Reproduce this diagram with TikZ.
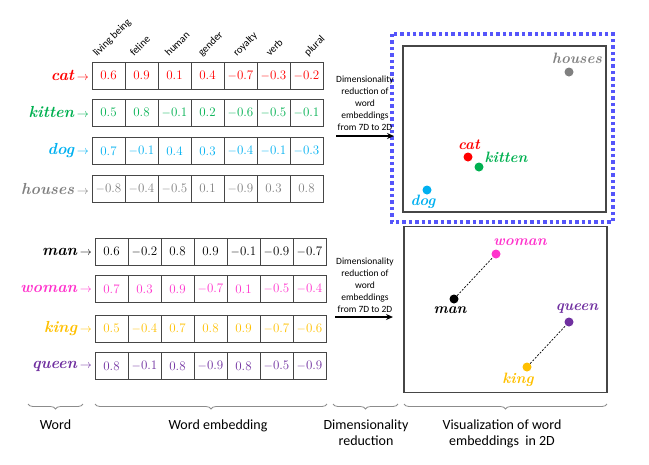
\documentclass[tikz,border=0pt]{standalone}
\usepackage{fontspec}
\usetikzlibrary{arrows.meta,decorations.pathreplacing}
\newfontfamily\calib{Carlito}
\definecolor{catred}{RGB}{255,0,0}
\definecolor{kittengreen}{RGB}{0,176,80}
\definecolor{dogblue}{RGB}{0,176,240}
\definecolor{housegray}{RGB}{128,128,128}
\definecolor{womanpink}{RGB}{255,51,204}
\definecolor{kinggold}{RGB}{255,192,0}
\definecolor{queenpurple}{RGB}{112,48,160}
\definecolor{dotblue}{RGB}{85,85,250}
\definecolor{cellline}{RGB}{70,70,70}
\definecolor{bracegray}{RGB}{140,140,140}
\tikzset{
  cell/.style={draw=cellline, line width=1pt, minimum width=33pt, minimum height=27pt, inner sep=0pt, font=\fontsize{13}{14}\selectfont},
  wordlbl/.style={anchor=east, inner sep=1pt, font=\fontsize{16}{18}\selectfont\bfseries\itshape},
  hdr/.style={anchor=base west, rotate=45, inner sep=0pt, font=\calib\fontsize{10.5}{12}\selectfont},
  plbl/.style={inner sep=0pt, font=\fontsize{15}{18}\selectfont\bfseries\itshape},
  pdot/.style={circle, minimum size=9pt, inner sep=0pt},
  panel/.style={draw=cellline, line width=1.1pt, minimum width=203pt, minimum height=166pt, inner sep=0pt},
  dimtxt/.style={align=center, font=\calib\fontsize{9.5}{12}\selectfont, inner sep=0pt},
  bigarrow/.style={-{Stealth[length=7pt,width=6pt]}, line width=1.6pt},
  bracestyle/.style={draw=bracegray, line width=0.8pt, decorate, decoration={brace, mirror, amplitude=5pt}},
  bottxt/.style={align=center, font=\calib\fontsize{14}{16}\selectfont, inner sep=0pt},
  simline/.style={dashed, dash pattern=on 2pt off 1.5pt, line width=0.7pt}
}
\newcommand{\embrow}[6]{%
  \foreach \v [count=\i] in {#5} {
    \node[cell, text=#2] (#1-\i) at ({#3+16.5+33*(\i-1)}, #4) {\v};
  }
  \node[wordlbl, text=#2] (#1-w) at (#3-2, #4) {#6\,{\fontsize{12}{12}\selectfont$\rightarrow$}};
}
\begin{document}
\begin{tikzpicture}[x=1pt, y=-1pt]
\useasboundingbox (0,0) rectangle (649,464);

% headers
\node[hdr] (h1) at (97,57) {living being};
\node[hdr] (h2) at (134,57) {feline};
\node[hdr] (h3) at (169,57) {human};
\node[hdr] (h4) at (202,57) {gender};
\node[hdr] (h5) at (237,57) {royalty};
\node[hdr] (h6) at (270,57) {verb};
\node[hdr] (h7) at (308,57) {plural};

% top rows
\embrow{cat}{catred}{92}{75.5}{0.6,0.9,0.1,0.4,$-$0.7,$-$0.3,$-$0.2}{cat}
\embrow{kitten}{kittengreen}{92}{112.5}{0.5,0.8,$-$0.1,0.2,$-$0.6,$-$0.5,$-$0.1}{kitten}
\embrow{dog}{dogblue}{92}{151}{0.7,$-$0.1,0.4,0.3,$-$0.4,$-$0.1,$-$0.3}{dog}
\embrow{houses}{housegray}{92}{188.5}{$-$0.8,$-$0.4,$-$0.5,0.1,$-$0.9,0.3,0.8}{houses}

% bottom rows
\embrow{man}{black}{95}{251.5}{0.6,$-$0.2,0.8,0.9,$-$0.1,$-$0.9,$-$0.7}{man}
\embrow{woman}{womanpink}{95}{289}{0.7,0.3,0.9,$-$0.7,0.1,$-$0.5,$-$0.4}{woman}
\embrow{king}{kinggold}{95}{328.5}{0.5,$-$0.4,0.7,0.8,0.9,$-$0.7,$-$0.6}{king}
\embrow{queen}{queenpurple}{95}{366}{0.8,$-$0.1,0.8,$-$0.9,0.8,$-$0.5,$-$0.9}{queen}

% top panel
\draw[dotblue, line width=4pt, dash pattern=on 3.4pt off 3pt] (392,34) rectangle (613,222);
\node[panel] (p1) at (504.5,129) {};
\node[pdot, fill=housegray] (dhouses) at (569,72) {};
\node[plbl, text=housegray] (lhouses) at (577,58) {houses};
\node[pdot, fill=catred] (dcat) at (468,157) {};
\node[plbl, text=catred] (lcat) at (469,145) {cat};
\node[pdot, fill=kittengreen] (dkitten) at (479,167) {};
\node[plbl, text=kittengreen] (lkitten) at (506,157) {kitten};
\node[pdot, fill=dogblue] (ddog) at (427,190) {};
\node[plbl, text=dogblue] (ldog) at (423,202) {dog};

% bottom panel
\node[panel] (p2) at (505.5,309.5) {};
\node[pdot, fill=womanpink] (dwoman) at (496,254) {};
\node[plbl, text=womanpink] (lwoman) at (520,242) {woman};
\node[pdot, fill=black] (dman) at (454,299) {};
\node[plbl, text=black] (lman) at (450,310) {man};
\node[pdot, fill=queenpurple] (dqueen) at (569,322) {};
\node[plbl, text=queenpurple] (lqueen) at (577,309) {queen};
\node[pdot, fill=kinggold] (dking) at (527,367) {};
\node[plbl, text=kinggold] (lking) at (518,380) {king};
\draw[simline] (dman) -- (dwoman);
\draw[simline] (dking) -- (dqueen);

% dimensionality reduction arrows
\node[dimtxt] (t1) at (365,103) {Dimensionality\\reduction of\\word\\embeddings\\from 7D to 2D};
\coordinate (a1s) at (336,136);
\coordinate (a1e) at (394,136);
\draw[bigarrow] (a1s) -- (a1e);
\node[dimtxt] (t2) at (365,285) {Dimensionality\\reduction of\\word\\embeddings\\from 7D to 2D};
\coordinate (a2s) at (335,317);
\coordinate (a2e) at (393,317);
\draw[bigarrow] (a2s) -- (a2e);

% braces
\coordinate (b1l) at (28,404); \coordinate (b1r) at (83,404);
\coordinate (b2l) at (95,404); \coordinate (b2r) at (327,404);
\coordinate (b3l) at (333,404); \coordinate (b3r) at (398,404);
\coordinate (b4l) at (404,404); \coordinate (b4r) at (607,404);
\draw[bracestyle] (b1l) -- (b1r);
\draw[bracestyle] (b2l) -- (b2r);
\draw[bracestyle] (b3l) -- (b3r);
\draw[bracestyle] (b4l) -- (b4r);
\node[bottxt, anchor=north] (l1) at (55.5,420) {Word};
\node[bottxt, anchor=north] (l2) at (218,420) {Word embedding};
\node[bottxt, anchor=north] (l3) at (366,420) {Dimensionality\\reduction};
\node[bottxt, anchor=north] (l4) at (502,420) {Visualization of word\\embeddings~ in 2D};
\end{tikzpicture}
\end{document}
